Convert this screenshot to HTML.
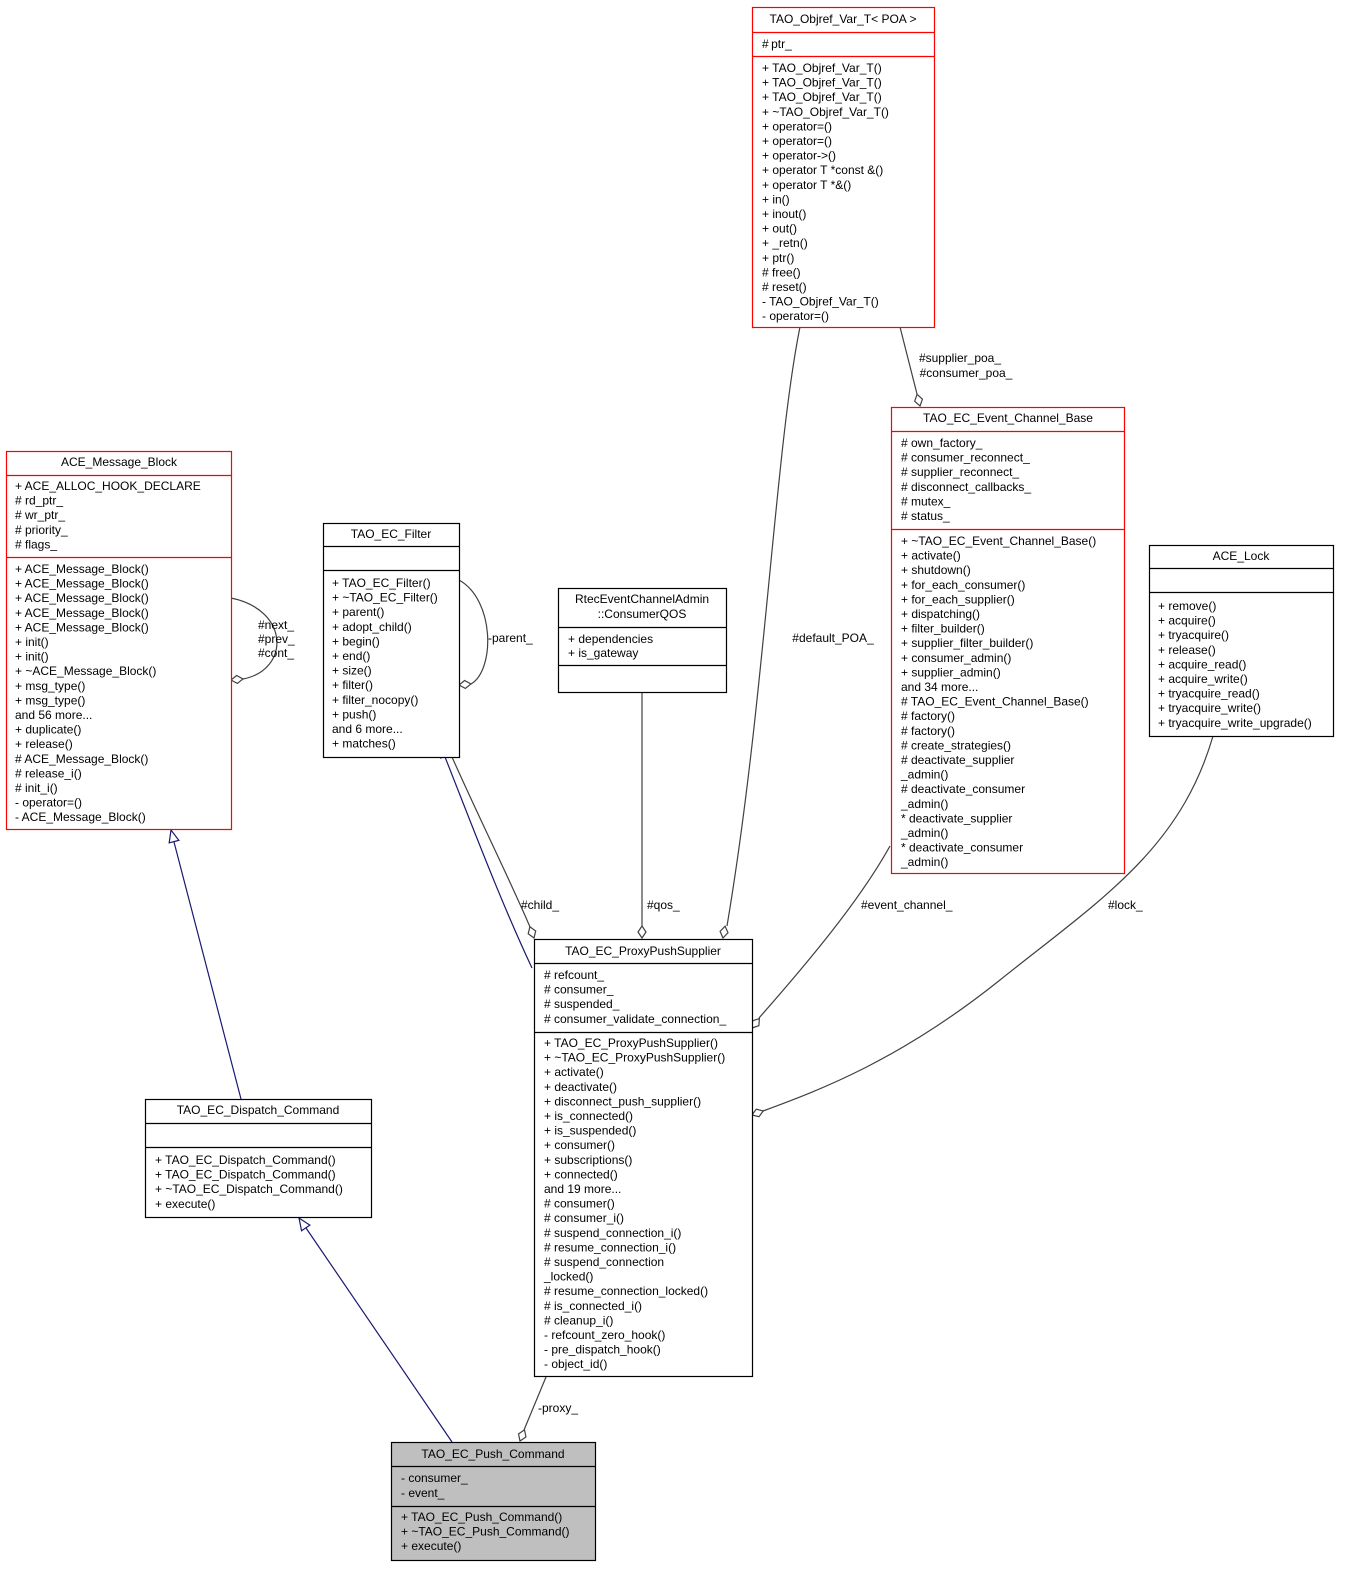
<!DOCTYPE html>
<html><head><meta charset="utf-8"><style>
html,body{margin:0;padding:0;background:#fff;}
svg{display:block;font-family:"Liberation Sans",Helvetica,Arial,sans-serif;font-size:12px;}
.t{text-anchor:middle}
</style></head><body>
<svg width="1355" height="1587" viewBox="0 0 1355 1587" xmlns="http://www.w3.org/2000/svg">
<g fill="none" stroke="#404040" stroke-width="1.2">
<!-- default_POA -->
<path d="M800,327 C775,450 765,700 727,926"/>
<!-- supplier_poa -->
<path d="M900,327 L917,394"/>
<!-- MB self loop -->
<path d="M231,598 C290,610 290,670 243,679"/>
<!-- Filter self loop -->
<path d="M459,580 C495,600 495,670 471,684"/>
<!-- child -->
<path d="M452,757 C480,820 510,880 530,927"/>
<!-- qos -->
<path d="M642,692 L642,926"/>
<!-- event channel -->
<path d="M890,846 C860,900 810,960 759,1018"/>
<!-- lock -->
<path d="M1213,736 C1180,850 1100,900 1000,980 C900,1060 820,1090 763,1111"/>
<!-- proxy -->
<path d="M546,1377 L524,1430"/>
</g>
<g fill="none" stroke="#191970" stroke-width="1.2">
<path d="M532,968 C500,900 470,820 445,757"/>
<path d="M241,1099 L174,842"/>
<path d="M452,1442 L306,1228"/>
</g>
<!-- diamonds -->
<g fill="#fff" stroke="#404040" stroke-width="1.2">
<polygon points="0,0 -6,-4 -12,0 -6,4" transform="translate(723,938) rotate(100)"/>
<polygon points="0,0 -6,-4 -12,0 -6,4" transform="translate(920,406) rotate(76)"/>
<polygon points="0,0 -6,-4 -12,0 -6,4" transform="translate(231,680) rotate(175)"/>
<polygon points="0,0 -6,-4 -12,0 -6,4" transform="translate(459,685) rotate(175)"/>
<polygon points="0,0 -6,-4 -12,0 -6,4" transform="translate(534,938) rotate(70)"/>
<polygon points="0,0 -6,-4 -12,0 -6,4" transform="translate(642,938) rotate(90)"/>
<polygon points="0,0 -6,-4 -12,0 -6,4" transform="translate(752,1028) rotate(128)"/>
<polygon points="0,0 -6,-4 -12,0 -6,4" transform="translate(752,1115) rotate(160)"/>
<polygon points="0,0 -6,-4 -12,0 -6,4" transform="translate(520,1441) rotate(112)"/>
</g>
<g fill="#fff" stroke="#191970" stroke-width="1.2">
<polygon points="0,0 -12,-5 -12,5" transform="translate(441,745) rotate(248)"/>
<polygon points="0,0 -12,-5 -12,5" transform="translate(171,830) rotate(-104.6)"/>
<polygon points="0,0 -12,-5 -12,5" transform="translate(299,1218) rotate(-124)"/>
</g>
<!-- edge labels -->
<g fill="#000">
<text x="833" y="642" class="t">#default_POA_</text>
<text x="960" y="362" class="t">#supplier_poa_</text>
<text x="966" y="377" class="t">#consumer_poa_</text>
<text x="258" y="629">#next_</text>
<text x="258" y="643">#prev_</text>
<text x="258" y="657">#cont_</text>
<text x="488" y="642">-parent_</text>
<text x="521" y="909">#child_</text>
<text x="647" y="909">#qos_</text>
<text x="861" y="909">#event_channel_</text>
<text x="1108" y="909">#lock_</text>
<text x="538" y="1412">-proxy_</text>
</g>

<!-- Boxes -->
<g stroke-width="1.2" fill="#fff">
<rect x="752.5" y="7.5" width="182" height="320" stroke="#ff0000"/>
<path d="M752.5,32.5H934.5M752.5,56.5H934.5" stroke="#ff0000"/>
<rect x="6.5" y="451.5" width="225" height="378" stroke="#ff0000"/>
<path d="M6.5,475.5H231.5M6.5,557.5H231.5" stroke="#ff0000"/>
<rect x="323.5" y="523.5" width="136" height="234" stroke="#000"/>
<path d="M323.5,546.5H459.5M323.5,570.5H459.5" stroke="#000"/>
<rect x="558.5" y="588.5" width="168" height="104" stroke="#000"/>
<path d="M558.5,627.5H726.5M558.5,665.5H726.5" stroke="#000"/>
<rect x="891.5" y="407.5" width="233" height="466" stroke="#ff0000"/>
<path d="M891.5,431.5H1124.5M891.5,529.5H1124.5" stroke="#ff0000"/>
<rect x="1149.5" y="545.5" width="184" height="191" stroke="#000"/>
<path d="M1149.5,568.5H1333.5M1149.5,592.5H1333.5" stroke="#000"/>
<rect x="534.5" y="939.5" width="218" height="437" stroke="#000"/>
<path d="M534.5,963.5H752.5M534.5,1032.5H752.5" stroke="#000"/>
<rect x="145.5" y="1099.5" width="226" height="118" stroke="#000"/>
<path d="M145.5,1123.5H371.5M145.5,1147.5H371.5" stroke="#000"/>
<rect x="391.5" y="1442.5" width="204" height="118" stroke="#000" fill="#bfbfbf"/>
<path d="M391.5,1466.5H595.5M391.5,1506.5H595.5" stroke="#000"/>
</g>

<g fill="#000">
<!-- Objref -->
<text x="843" y="23" class="t">TAO_Objref_Var_T&lt; POA &gt;</text>
<text x="762" y="48">#&#8201;ptr_</text>
<g transform="translate(762,72)">
<text y="0">+ TAO_Objref_Var_T()</text>
<text y="14.6">+ TAO_Objref_Var_T()</text>
<text y="29.2">+ TAO_Objref_Var_T()</text>
<text y="43.8">+ ~TAO_Objref_Var_T()</text>
<text y="58.4">+ operator=()</text>
<text y="73">+ operator=()</text>
<text y="87.6">+ operator-&gt;()</text>
<text y="102.2">+ operator T *const &amp;()</text>
<text y="116.8">+ operator T *&amp;()</text>
<text y="131.4">+ in()</text>
<text y="146">+ inout()</text>
<text y="160.6">+ out()</text>
<text y="175.2">+ _retn()</text>
<text y="189.8">+ ptr()</text>
<text y="204.4"># free()</text>
<text y="219"># reset()</text>
<text y="233.6">- TAO_Objref_Var_T()</text>
<text y="248.2">- operator=()</text>
</g>
<!-- ACE_Message_Block -->
<text x="119" y="466" class="t">ACE_Message_Block</text>
<g transform="translate(15,490)">
<text y="0">+ ACE_ALLOC_HOOK_DECLARE</text>
<text y="14.6"># rd_ptr_</text>
<text y="29.2"># wr_ptr_</text>
<text y="43.8"># priority_</text>
<text y="58.4"># flags_</text>
</g>
<g transform="translate(15,573)">
<text y="0">+ ACE_Message_Block()</text>
<text y="14.6">+ ACE_Message_Block()</text>
<text y="29.2">+ ACE_Message_Block()</text>
<text y="43.8">+ ACE_Message_Block()</text>
<text y="58.4">+ ACE_Message_Block()</text>
<text y="73">+ init()</text>
<text y="87.6">+ init()</text>
<text y="102.2">+ ~ACE_Message_Block()</text>
<text y="116.8">+ msg_type()</text>
<text y="131.4">+ msg_type()</text>
<text y="146">and 56 more...</text>
<text y="160.6">+ duplicate()</text>
<text y="175.2">+ release()</text>
<text y="189.8"># ACE_Message_Block()</text>
<text y="204.4"># release_i()</text>
<text y="219"># init_i()</text>
<text y="233.6">- operator=()</text>
<text y="248.2">- ACE_Message_Block()</text>
</g>
<!-- Filter -->
<text x="391" y="538" class="t">TAO_EC_Filter</text>
<g transform="translate(332,587)">
<text y="0">+ TAO_EC_Filter()</text>
<text y="14.6">+ ~TAO_EC_Filter()</text>
<text y="29.2">+ parent()</text>
<text y="43.8">+ adopt_child()</text>
<text y="58.4">+ begin()</text>
<text y="73">+ end()</text>
<text y="87.6">+ size()</text>
<text y="102.2">+ filter()</text>
<text y="116.8">+ filter_nocopy()</text>
<text y="131.4">+ push()</text>
<text y="146">and 6 more...</text>
<text y="160.6">+ matches()</text>
</g>
<!-- ConsumerQOS -->
<text x="642" y="603" class="t">RtecEventChannelAdmin</text>
<text x="642" y="618" class="t">::ConsumerQOS</text>
<text x="568" y="643">+ dependencies</text>
<text x="568" y="657">+ is_gateway</text>
<!-- Event Channel Base -->
<text x="1008" y="422" class="t">TAO_EC_Event_Channel_Base</text>
<g transform="translate(901,447)">
<text y="0"># own_factory_</text>
<text y="14.6"># consumer_reconnect_</text>
<text y="29.2"># supplier_reconnect_</text>
<text y="43.8"># disconnect_callbacks_</text>
<text y="58.4"># mutex_</text>
<text y="73"># status_</text>
</g>
<g transform="translate(901,545)">
<text y="0">+ ~TAO_EC_Event_Channel_Base()</text>
<text y="14.6">+ activate()</text>
<text y="29.2">+ shutdown()</text>
<text y="43.8">+ for_each_consumer()</text>
<text y="58.4">+ for_each_supplier()</text>
<text y="73">+ dispatching()</text>
<text y="87.6">+ filter_builder()</text>
<text y="102.2">+ supplier_filter_builder()</text>
<text y="116.8">+ consumer_admin()</text>
<text y="131.4">+ supplier_admin()</text>
<text y="146">and 34 more...</text>
<text y="160.6"># TAO_EC_Event_Channel_Base()</text>
<text y="175.2"># factory()</text>
<text y="189.8"># factory()</text>
<text y="204.4"># create_strategies()</text>
<text y="219"># deactivate_supplier</text>
<text y="233.6">_admin()</text>
<text y="248.2"># deactivate_consumer</text>
<text y="262.8">_admin()</text>
<text y="277.4">* deactivate_supplier</text>
<text y="292">_admin()</text>
<text y="306.6">* deactivate_consumer</text>
<text y="321.2">_admin()</text>
</g>
<!-- ACE_Lock -->
<text x="1241" y="560" class="t">ACE_Lock</text>
<g transform="translate(1158,610)">
<text y="0">+ remove()</text>
<text y="14.6">+ acquire()</text>
<text y="29.2">+ tryacquire()</text>
<text y="43.8">+ release()</text>
<text y="58.4">+ acquire_read()</text>
<text y="73">+ acquire_write()</text>
<text y="87.6">+ tryacquire_read()</text>
<text y="102.2">+ tryacquire_write()</text>
<text y="116.8">+ tryacquire_write_upgrade()</text>
</g>
<!-- ProxyPushSupplier -->
<text x="643" y="955" class="t">TAO_EC_ProxyPushSupplier</text>
<g transform="translate(544,979)">
<text y="0"># refcount_</text>
<text y="14.6"># consumer_</text>
<text y="29.2"># suspended_</text>
<text y="43.8"># consumer_validate_connection_</text>
</g>
<g transform="translate(544,1047)">
<text y="0">+ TAO_EC_ProxyPushSupplier()</text>
<text y="14.6">+ ~TAO_EC_ProxyPushSupplier()</text>
<text y="29.2">+ activate()</text>
<text y="43.8">+ deactivate()</text>
<text y="58.4">+ disconnect_push_supplier()</text>
<text y="73">+ is_connected()</text>
<text y="87.6">+ is_suspended()</text>
<text y="102.2">+ consumer()</text>
<text y="116.8">+ subscriptions()</text>
<text y="131.4">+ connected()</text>
<text y="146">and 19 more...</text>
<text y="160.6"># consumer()</text>
<text y="175.2"># consumer_i()</text>
<text y="189.8"># suspend_connection_i()</text>
<text y="204.4"># resume_connection_i()</text>
<text y="219"># suspend_connection</text>
<text y="233.6">_locked()</text>
<text y="248.2"># resume_connection_locked()</text>
<text y="262.8"># is_connected_i()</text>
<text y="277.4"># cleanup_i()</text>
<text y="292">- refcount_zero_hook()</text>
<text y="306.6">- pre_dispatch_hook()</text>
<text y="321.2">- object_id()</text>
</g>
<!-- Dispatch Command -->
<text x="258" y="1114" class="t">TAO_EC_Dispatch_Command</text>
<g transform="translate(155,1164)">
<text y="0">+ TAO_EC_Dispatch_Command()</text>
<text y="14.6">+ TAO_EC_Dispatch_Command()</text>
<text y="29.2">+ ~TAO_EC_Dispatch_Command()</text>
<text y="43.8">+ execute()</text>
</g>
<!-- Push Command -->
<text x="493" y="1458" class="t">TAO_EC_Push_Command</text>
<text x="401" y="1482">- consumer_</text>
<text x="401" y="1497">- event_</text>
<g transform="translate(401,1521)">
<text y="0">+ TAO_EC_Push_Command()</text>
<text y="14.6">+ ~TAO_EC_Push_Command()</text>
<text y="29.2">+ execute()</text>
</g>
</g>
</svg>
</body></html>
